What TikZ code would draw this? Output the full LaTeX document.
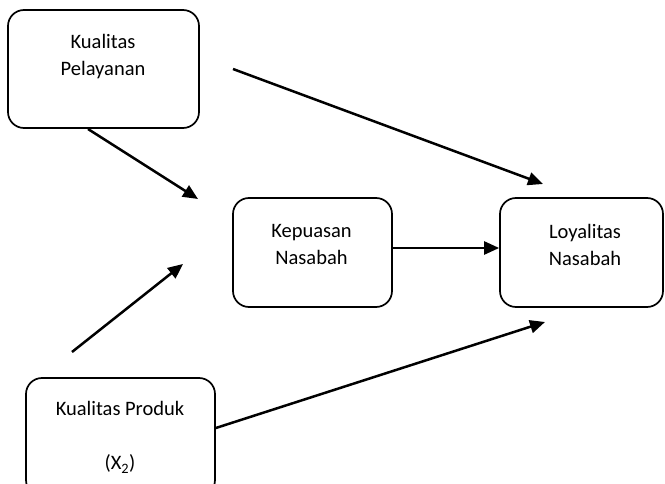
\documentclass[tikz,border=0pt]{standalone}
\usepackage{fontspec}
\setmainfont{Carlito}
\usetikzlibrary{arrows.meta}

\begin{document}
\begin{tikzpicture}[x=1pt,y=-1pt,
  kotak/.style={draw,rounded corners=16pt,line width=1.7pt,inner sep=0pt},
  teks/.style={align=center,font=\fontsize{20.5}{27}\selectfont},
  panah/.style={-{Triangle[length=15pt,width=13pt]},line width=2.5pt}]

\useasboundingbox (0,0) rectangle (665,484);

% Kotak variabel
\node[kotak,minimum width=191pt,minimum height=118pt] (pel) at (103.5,69) {};
\node[kotak,minimum width=159pt,minimum height=109pt] (kep) at (312.5,252.5) {};
\node[kotak,minimum width=163pt,minimum height=109pt] (loy) at (581.5,252.5) {};
\node[kotak,minimum width=189pt,minimum height=118pt] (prod) at (120.5,437) {};

% Teks di dalam kotak
\node[teks] (pelT) at (103,57) {Kualitas\\Pelayanan};
\node[teks] (kepT) at (311.5,244.5) {Kepuasan\\Nasabah};
\node[teks] (loyT) at (585,244.5) {Loyalitas\\Nasabah};
\node[teks] (prodT) at (120,408) {Kualitas Produk};
\node[teks] (prodX) at (120,464) {(X\textsubscript{2})};

% Ujung panah yang lepas
\coordinate (pelA) at (233,69);
\coordinate (loyA) at (543,184);
\coordinate (pelB) at (88,129);
\coordinate (kepB) at (198,199);
\coordinate (prodC) at (72,352);
\coordinate (kepC) at (183,264);
\coordinate (loyD) at (545,322);

\draw[panah] (pelA) -- (loyA);
\draw[panah] (pelB) -- (kepB);
\draw[panah] (prodC) -- (kepC);
\draw[panah] ([yshift=4.5pt]kep.east) -- ([yshift=4.5pt]loy.west);
\draw[panah] ([yshift=9pt]prod.east) -- (loyD);

\end{tikzpicture}
\end{document}
